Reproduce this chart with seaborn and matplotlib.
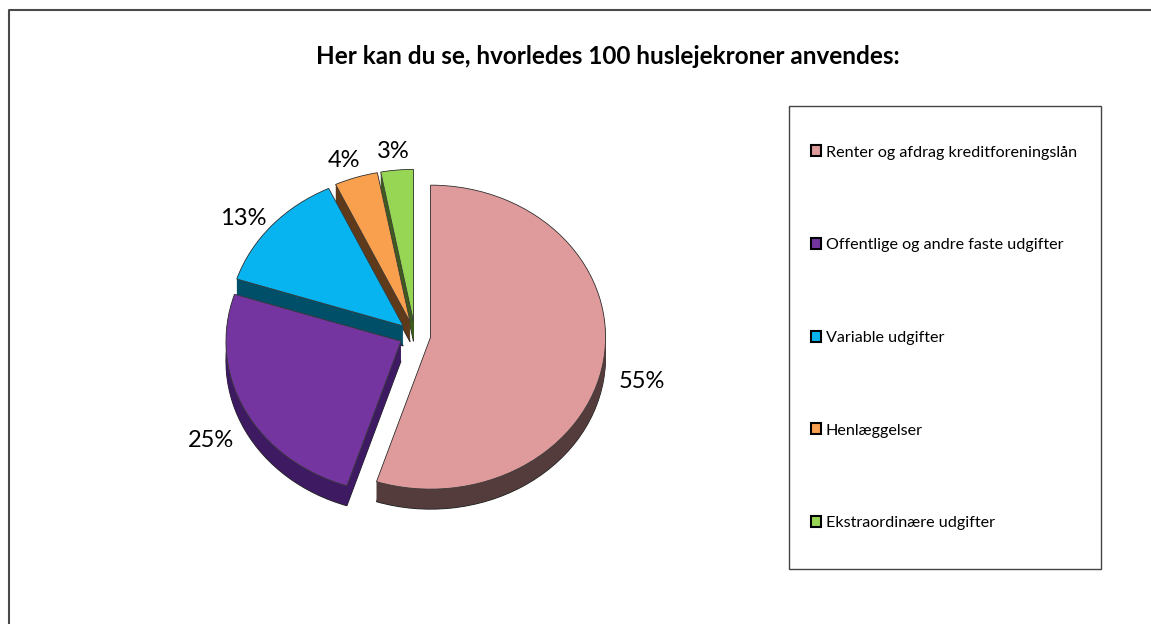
import numpy as np
import matplotlib
matplotlib.use("Agg")
import matplotlib.pyplot as plt
import seaborn as sns
from matplotlib.patches import Patch, Rectangle
from matplotlib.lines import Line2D

# =============================== #
# data
# =============================== #
title = "Her kan du se, hvorledes 100 huslejekroner anvendes:"
categories = ["Renter og afdrag kreditforeningslån",
              "Offentlige og andre faste udgifter",
              "Variable udgifter",
              "Henlæggelser",
              "Ekstraordinære udgifter"]
shares = [55, 25, 13, 4, 3]
pct_labels = [f"{v}%" for v in shares]

top_colors = ["#DF9B9B", "#7535A0", "#08B4F0", "#F9A04F", "#96D654"]
side_colors = ["#553C3C", "#3E1A62", "#004F68", "#5E3A1A", "#3E5C1E"]

# =============================== #
# figure setup (pixel based)
# =============================== #
sns.set_theme(style="white")
plt.rcParams['font.family'] = ['Lato', 'DejaVu Sans']
plt.rcParams['text.color'] = 'black'

W, H = 1151, 624
DPI = 100
fig = plt.figure(figsize=(W / DPI, H / DPI), dpi=DPI)
fig.patch.set_facecolor("white")
ax = fig.add_axes([0, 0, 1, 1])

# ellipse radii and centre of the pie (pixels, y from bottom)
rx, ry = 175, 152
cx, cy = 415, 289
depth = 20 / ry
explode = [0.09] * len(shares)

# extruded side of the 3d pie
for k, d in enumerate(np.linspace(depth, 0, 30)):
    ax.pie(shares, explode=explode, colors=side_colors, startangle=90, counterclock=False,
           center=(0, -d), wedgeprops=dict(linewidth=0.7 if k == 0 else 0, edgecolor="#222222"))

# top face
wedges, texts = ax.pie(shares, explode=explode, colors=top_colors, labels=pct_labels,
                       labeldistance=1.22, startangle=90, counterclock=False,
                       wedgeprops=dict(linewidth=0.6, edgecolor="#3a3a3a"),
                       textprops=dict(fontsize=17, color="black"))
for t in texts:
    tx, ty = t.get_position()
    t.set_horizontalalignment("center")
    t.set_position((tx, ty - depth * 0.75))

ax.set_aspect("auto")
ax.set_xlim(-cx / rx, (W - cx) / rx)
ax.set_ylim(-cy / ry, (H - cy) / ry)
ax.axis("off")

# title
fig.text(608 / W, 1 - 57 / H, title, ha="center", va="center", fontsize=17.5,
         fontweight="bold", color="black")

# legend with its own box
handles = [Patch(facecolor=c, edgecolor="black", linewidth=1.5, label=n)
           for c, n in zip(top_colors, categories)]
fig.legend(handles=handles, loc="upper left", bbox_to_anchor=(811 / W, 1 - 145.5 / H),
           frameon=False, fontsize=11.6, handlelength=0.65, handleheight=0.65,
           handletextpad=0.25, labelspacing=4.88, borderpad=0, borderaxespad=0)
fig.add_artist(Rectangle((789 / W, 1 - 569 / H), (1101 - 789) / W, (569 - 106) / H,
                         transform=fig.transFigure, fill=False, edgecolor="#444444", lw=1.0))

# outer chart border (only left and top are in view)
fig.add_artist(Line2D([8.5 / W, 8.5 / W, 1], [0, 1 - 9.5 / H, 1 - 9.5 / H],
                      transform=fig.transFigure, color="#4a4a4a", lw=1.5))

fig.savefig("out.png", dpi=DPI)
